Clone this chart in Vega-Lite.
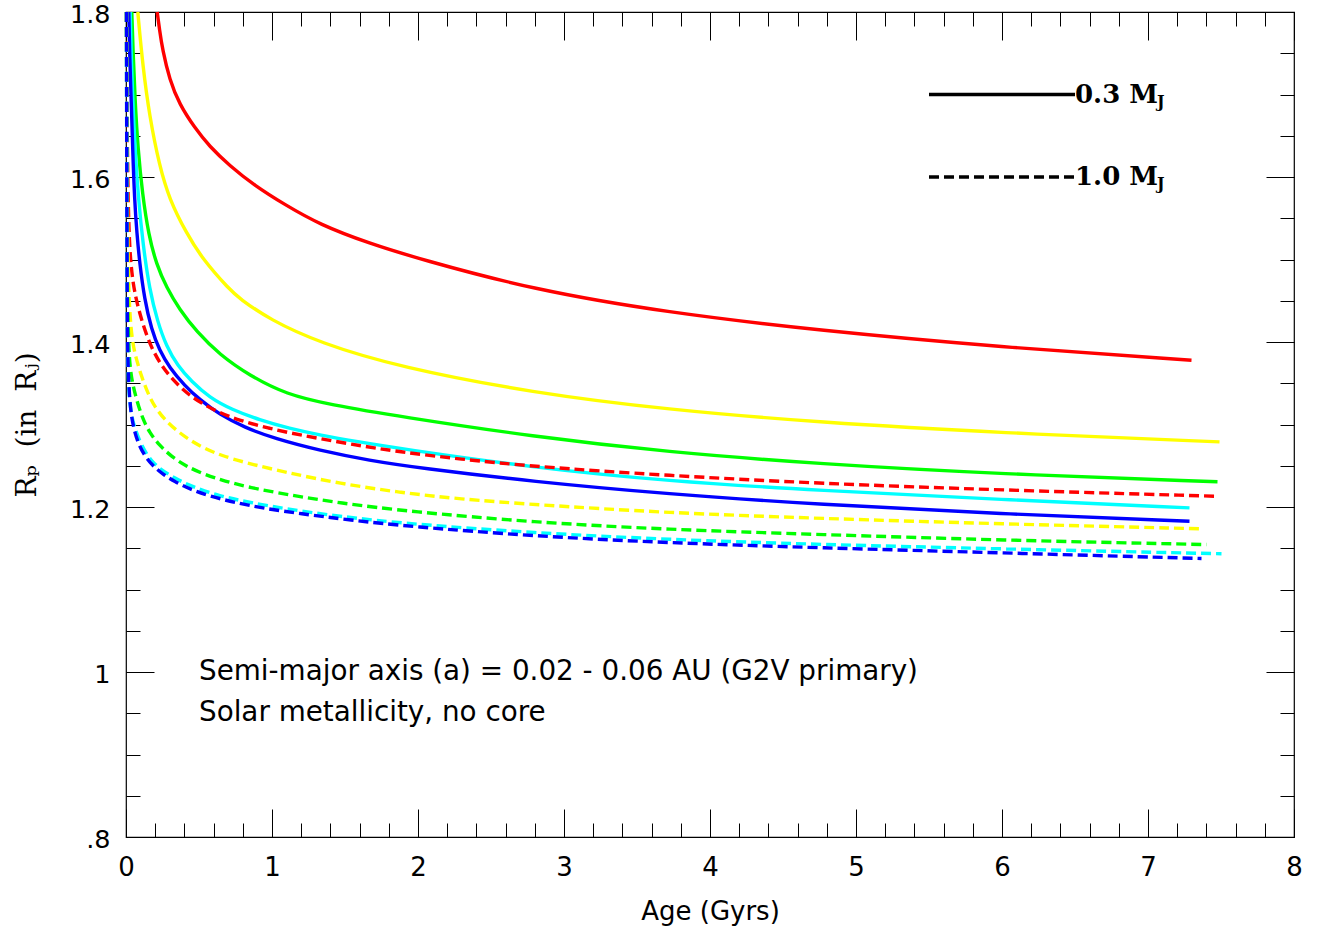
{
  "$schema": "https://vega.github.io/schema/vega-lite/v6.json",
  "width": 1168,
  "height": 825,
  "autosize": {"type": "none"},
  "padding": {"left": 126, "top": 12, "right": 28, "bottom": 95},
  "background": "white",
  "config": {
    "view": {"stroke": "#000000", "strokeWidth": 1.2},
    "axis": {"domain": false, "grid": false, "tickColor": "#000000", "tickWidth": 1, "labelColor": "#000000", "titleColor": "#000000"}
  },
  "datasets": {
    "solid": [
      {"s":"a02","age":0.2137,"r":1.8},{"s":"a02","age":0.2295,"r":1.7788},{"s":"a02","age":0.25,"r":1.7545},{"s":"a02","age":0.2979,"r":1.7182},{"s":"a02","age":0.3664,"r":1.6879},{"s":"a02","age":0.4692,"r":1.66},{"s":"a02","age":0.5719,"r":1.637},{"s":"a02","age":0.7089,"r":1.6139},{"s":"a02","age":0.8801,"r":1.5897},{"s":"a02","age":1.0856,"r":1.5667},{"s":"a02","age":1.3253,"r":1.5424},{"s":"a02","age":1.6678,"r":1.5194},{"s":"a02","age":2.0103,"r":1.5006},{"s":"a02","age":2.7842,"r":1.4636},{"s":"a02","age":3.7021,"r":1.4358},{"s":"a02","age":4.75,"r":1.4139},{"s":"a02","age":5.9829,"r":1.3939},{"s":"a02","age":7.2979,"r":1.3779},
      {"s":"a03","age":0.0808,"r":1.8},{"s":"a03","age":0.1151,"r":1.7343},{"s":"a03","age":0.161,"r":1.6737},{"s":"a03","age":0.2295,"r":1.6131},{"s":"a03","age":0.2979,"r":1.5727},{"s":"a03","age":0.4123,"r":1.5324},{"s":"a03","age":0.526,"r":1.5},{"s":"a03","age":0.7089,"r":1.4636},{"s":"a03","age":0.7774,"r":1.4527},{"s":"a03","age":0.9829,"r":1.4273},{"s":"a03","age":1.3253,"r":1.399},{"s":"a03","age":1.8733,"r":1.3695},{"s":"a03","age":2.7863,"r":1.3384},{"s":"a03","age":3.7,"r":1.3182},{"s":"a03","age":4.75,"r":1.3024},{"s":"a03","age":5.9829,"r":1.2899},{"s":"a03","age":7.4897,"r":1.279},
      {"s":"a04","age":0.0397,"r":1.8},{"s":"a04","age":0.0479,"r":1.7545},{"s":"a04","age":0.0616,"r":1.6939},{"s":"a04","age":0.0822,"r":1.6333},{"s":"a04","age":0.113,"r":1.5788},{"s":"a04","age":0.1541,"r":1.5303},{"s":"a04","age":0.2089,"r":1.4939},{"s":"a04","age":0.2774,"r":1.4661},{"s":"a04","age":0.3664,"r":1.4394},{"s":"a04","age":0.4829,"r":1.4127},{"s":"a04","age":0.6404,"r":1.3848},{"s":"a04","age":0.8459,"r":1.3594},{"s":"a04","age":1.0993,"r":1.3364},{"s":"a04","age":1.3938,"r":1.3242},{"s":"a04","age":1.8733,"r":1.3097},{"s":"a04","age":2.7842,"r":1.2855},{"s":"a04","age":3.7021,"r":1.2667},{"s":"a04","age":4.75,"r":1.2521},{"s":"a04","age":5.9829,"r":1.24},{"s":"a04","age":7.476,"r":1.2306},
      {"s":"a05","age":0.0288,"r":1.8},{"s":"a05","age":0.0363,"r":1.7424},{"s":"a05","age":0.0466,"r":1.6939},{"s":"a05","age":0.0616,"r":1.6333},{"s":"a05","age":0.0856,"r":1.5727},{"s":"a05","age":0.1164,"r":1.5182},{"s":"a05","age":0.161,"r":1.4636},{"s":"a05","age":0.2158,"r":1.4248},{"s":"a05","age":0.2774,"r":1.3945},{"s":"a05","age":0.3527,"r":1.3715},{"s":"a05","age":0.4486,"r":1.3521},{"s":"a05","age":0.5719,"r":1.3327},{"s":"a05","age":0.7226,"r":1.3182},{"s":"a05","age":0.9144,"r":1.3055},{"s":"a05","age":1.1199,"r":1.2952},{"s":"a05","age":1.3253,"r":1.2873},{"s":"a05","age":1.5993,"r":1.2788},{"s":"a05","age":1.8733,"r":1.2709},{"s":"a05","age":2.7842,"r":1.2479},{"s":"a05","age":3.7021,"r":1.2315},{"s":"a05","age":4.75,"r":1.22},{"s":"a05","age":5.9829,"r":1.2091},{"s":"a05","age":7.2842,"r":1.199},
      {"s":"a06","age":0.0192,"r":1.8},{"s":"a06","age":0.026,"r":1.7424},{"s":"a06","age":0.0356,"r":1.6939},{"s":"a06","age":0.0459,"r":1.6333},{"s":"a06","age":0.0582,"r":1.5727},{"s":"a06","age":0.0753,"r":1.5303},{"s":"a06","age":0.0925,"r":1.4976},{"s":"a06","age":0.1267,"r":1.4515},{"s":"a06","age":0.1747,"r":1.4152},{"s":"a06","age":0.2295,"r":1.3897},{"s":"a06","age":0.2979,"r":1.3691},{"s":"a06","age":0.4007,"r":1.3473},{"s":"a06","age":0.5034,"r":1.3303},{"s":"a06","age":0.6404,"r":1.3121},{"s":"a06","age":0.8116,"r":1.2964},{"s":"a06","age":1.0171,"r":1.283},{"s":"a06","age":1.3253,"r":1.2685},{"s":"a06","age":1.6678,"r":1.2564},{"s":"a06","age":2.0103,"r":1.2473},{"s":"a06","age":2.7842,"r":1.2309},{"s":"a06","age":3.7021,"r":1.2158},{"s":"a06","age":4.75,"r":1.203},{"s":"a06","age":5.9829,"r":1.1918},{"s":"a06","age":7.2842,"r":1.1828},
      {"s":"key","age":5.5,"r":1.7},{"s":"key","age":6.5,"r":1.7}
    ],
    "dashed": [
      {"s":"a02","age":0.0034,"r":1.8},{"s":"a02","age":0.0075,"r":1.6697},{"s":"a02","age":0.0137,"r":1.5727},{"s":"a02","age":0.024,"r":1.5182},{"s":"a02","age":0.0342,"r":1.4939},{"s":"a02","age":0.0479,"r":1.4721},{"s":"a02","age":0.0685,"r":1.4527},{"s":"a02","age":0.0925,"r":1.4358},{"s":"a02","age":0.1336,"r":1.4115},{"s":"a02","age":0.1836,"r":1.3897},{"s":"a02","age":0.2432,"r":1.3715},{"s":"a02","age":0.3185,"r":1.3545},{"s":"a02","age":0.4144,"r":1.3382},{"s":"a02","age":0.5034,"r":1.3273},{"s":"a02","age":0.6199,"r":1.3158},{"s":"a02","age":0.7774,"r":1.3048},{"s":"a02","age":0.9829,"r":1.2952},{"s":"a02","age":1.1884,"r":1.2873},{"s":"a02","age":1.5308,"r":1.2764},{"s":"a02","age":1.8733,"r":1.2667},{"s":"a02","age":2.2842,"r":1.2582},{"s":"a02","age":2.7842,"r":1.2491},{"s":"a02","age":3.7021,"r":1.2382},{"s":"a02","age":4.75,"r":1.2285},{"s":"a02","age":5.9829,"r":1.2206},{"s":"a02","age":7.4555,"r":1.2131},
      {"s":"a03","age":0.0034,"r":1.8},{"s":"a03","age":0.0068,"r":1.6333},{"s":"a03","age":0.0123,"r":1.5121},{"s":"a03","age":0.0205,"r":1.4515},{"s":"a03","age":0.0342,"r":1.4152},{"s":"a03","age":0.0514,"r":1.3933},{"s":"a03","age":0.0719,"r":1.3788},{"s":"a03","age":0.1062,"r":1.3582},{"s":"a03","age":0.1473,"r":1.3388},{"s":"a03","age":0.1952,"r":1.3218},{"s":"a03","age":0.2637,"r":1.3061},{"s":"a03","age":0.3459,"r":1.2927},{"s":"a03","age":0.4349,"r":1.2812},{"s":"a03","age":0.5377,"r":1.2709},{"s":"a03","age":0.6541,"r":1.2624},{"s":"a03","age":0.8116,"r":1.2539},{"s":"a03","age":1.0993,"r":1.2418},{"s":"a03","age":1.4623,"r":1.2285},{"s":"a03","age":1.8733,"r":1.2176},{"s":"a03","age":2.2842,"r":1.2097},{"s":"a03","age":2.7842,"r":1.203},{"s":"a03","age":3.7021,"r":1.193},{"s":"a03","age":4.75,"r":1.1861},{"s":"a03","age":5.9829,"r":1.1796},{"s":"a03","age":7.3527,"r":1.1736},
      {"s":"a04","age":0.0034,"r":1.8},{"s":"a04","age":0.0062,"r":1.5727},{"s":"a04","age":0.0103,"r":1.4515},{"s":"a04","age":0.0185,"r":1.3909},{"s":"a04","age":0.0308,"r":1.3642},{"s":"a04","age":0.0466,"r":1.3485},{"s":"a04","age":0.0719,"r":1.3303},{"s":"a04","age":0.113,"r":1.3073},{"s":"a04","age":0.161,"r":1.2903},{"s":"a04","age":0.2295,"r":1.2745},{"s":"a04","age":0.3116,"r":1.2612},{"s":"a04","age":0.4144,"r":1.2491},{"s":"a04","age":0.5377,"r":1.2394},{"s":"a04","age":0.6747,"r":1.2315},{"s":"a04","age":0.8459,"r":1.2236},{"s":"a04","age":1.0993,"r":1.2152},{"s":"a04","age":1.4623,"r":1.2048},{"s":"a04","age":1.9418,"r":1.1945},{"s":"a04","age":2.7842,"r":1.1816},{"s":"a04","age":3.7021,"r":1.1727},{"s":"a04","age":4.75,"r":1.1667},{"s":"a04","age":5.9829,"r":1.1598},{"s":"a04","age":7.4007,"r":1.1545},
      {"s":"a05","age":0.0034,"r":1.8},{"s":"a05","age":0.0055,"r":1.5121},{"s":"a05","age":0.0089,"r":1.403},{"s":"a05","age":0.0151,"r":1.3545},{"s":"a05","age":0.024,"r":1.3303},{"s":"a05","age":0.0377,"r":1.3109},{"s":"a05","age":0.0582,"r":1.2964},{"s":"a05","age":0.0925,"r":1.2806},{"s":"a05","age":0.1336,"r":1.2661},{"s":"a05","age":0.1815,"r":1.2545},{"s":"a05","age":0.2432,"r":1.2448},{"s":"a05","age":0.3322,"r":1.2352},{"s":"a05","age":0.4486,"r":1.2248},{"s":"a05","age":0.6404,"r":1.2133},{"s":"a05","age":0.8459,"r":1.2055},{"s":"a05","age":1.0993,"r":1.1976},{"s":"a05","age":1.4623,"r":1.1885},{"s":"a05","age":1.9418,"r":1.1794},{"s":"a05","age":2.7842,"r":1.1687},{"s":"a05","age":3.7021,"r":1.1606},{"s":"a05","age":4.75,"r":1.1545},{"s":"a05","age":5.9829,"r":1.1493},{"s":"a05","age":7.5034,"r":1.1433},
      {"s":"a06","age":0.0034,"r":1.8},{"s":"a06","age":0.0055,"r":1.5727},{"s":"a06","age":0.0089,"r":1.4152},{"s":"a06","age":0.0144,"r":1.3667},{"s":"a06","age":0.024,"r":1.3327},{"s":"a06","age":0.0377,"r":1.3085},{"s":"a06","age":0.0582,"r":1.2915},{"s":"a06","age":0.0856,"r":1.2764},{"s":"a06","age":0.1267,"r":1.2624},{"s":"a06","age":0.1815,"r":1.2503},{"s":"a06","age":0.25,"r":1.24},{"s":"a06","age":0.3322,"r":1.2309},{"s":"a06","age":0.4349,"r":1.2218},{"s":"a06","age":0.5719,"r":1.2133},{"s":"a06","age":0.7432,"r":1.2055},{"s":"a06","age":0.9486,"r":1.1982},{"s":"a06","age":1.1884,"r":1.1921},{"s":"a06","age":1.5308,"r":1.1842},{"s":"a06","age":1.9418,"r":1.1764},{"s":"a06","age":2.7842,"r":1.1648},{"s":"a06","age":3.7021,"r":1.1566},{"s":"a06","age":4.75,"r":1.1505},{"s":"a06","age":5.9829,"r":1.1445},{"s":"a06","age":7.3664,"r":1.1376},
      {"s":"key","age":5.5,"r":1.6},{"s":"key","age":6.5,"r":1.6}
    ],
    "keylabels": [
      {"age":6.5,"r":1.7,"t":"0.3 M","sub":"J"},
      {"age":6.5,"r":1.6,"t":"1.0 M","sub":"J"}
    ],
    "notes": [
      {"age":0.5,"r":1.0,"t":"Semi-major axis (a) = 0.02 - 0.06 AU (G2V primary)"},
      {"age":0.5,"r":0.95,"t":"Solar metallicity, no core"}
    ]
  },
  "resolve": {"axis": {"x": "independent", "y": "independent"}},
  "layer": [
    {
      "data": {"name": "solid"},
      "mark": {"type": "line", "strokeWidth": 3.4, "interpolate": "basis", "clip": false},
      "encoding": {
        "x": {"field": "age", "type": "quantitative",
          "scale": {"domain": [0, 8], "nice": false, "zero": false},
          "axis": {"orient": "bottom", "values": [0,1,2,3,4,5,6,7,8], "format": "d", "tickSize": -28, "labelPadding": 45, "labelFlush": false,
            "labelFont": "DejaVu Sans", "labelFontSize": 26, "title": "Age (Gyrs)", "titleFont": "DejaVu Sans", "titleFontSize": 26, "titleFontWeight": "normal", "titlePadding": 18}},
        "y": {"field": "r", "type": "quantitative",
          "scale": {"domain": [0.8, 1.8], "nice": false, "zero": false},
          "axis": {"orient": "left", "values": [0.8,1,1.2,1.4,1.6,1.8], "tickSize": -28, "labelPadding": 44, "labelOffset": 2,
            "labelExpr": "abs(datum.value-1)<0.001 ? '1' : (datum.value < 0.9 ? '.8' : format(datum.value, '.1f'))",
            "labelFont": "DejaVu Sans", "labelFontSize": 25.5, "title": "Rₚ\u00a0 (in\u00a0 Rⱼ)", "titleFont": "DejaVu Serif", "titleFontSize": 28, "titleFontWeight": "normal", "titlePadding": 28}},
        "color": {"field": "s", "type": "nominal",
          "scale": {"domain": ["a02","a03","a04","a05","a06","key"], "range": ["#ff0000","#ffff00","#00ff00","#00ffff","#0000ff","#000000"]},
          "legend": null}
      }
    },
    {
      "data": {"name": "dashed"},
      "mark": {"type": "line", "strokeWidth": 3.4, "interpolate": "basis", "strokeDash": [10, 5], "clip": false},
      "encoding": {
        "x": {"field": "age", "type": "quantitative",
          "scale": {"domain": [0, 8], "nice": false, "zero": false},
          "axis": {"orient": "bottom", "values": [0,0.2,0.4,0.6,0.8,1,1.2,1.4,1.6,1.8,2,2.2,2.4,2.6,2.8,3,3.2,3.4,3.6,3.8,4,4.2,4.4,4.6,4.8,5,5.2,5.4,5.6,5.8,6,6.2,6.4,6.6,6.8,7,7.2,7.4,7.6,7.8,8], "tickSize": -14, "labels": false, "title": null}},
        "y": {"field": "r", "type": "quantitative",
          "scale": {"domain": [0.8, 1.8], "nice": false, "zero": false},
          "axis": {"orient": "left", "values": [0.8,0.85,0.9,0.95,1,1.05,1.1,1.15,1.2,1.25,1.3,1.35,1.4,1.45,1.5,1.55,1.6,1.65,1.7,1.75,1.8], "tickSize": -14, "labels": false, "title": null}},
        "color": {"field": "s", "type": "nominal",
          "scale": {"domain": ["a02","a03","a04","a05","a06","key"], "range": ["#ff0000","#ffff00","#00ff00","#00ffff","#0000ff","#000000"]},
          "legend": null}
      }
    },
    {
      "data": {"name": "keylabels"},
      "mark": {"type": "text", "align": "left", "baseline": "middle", "font": "DejaVu Serif", "fontWeight": "bold", "fontSize": 26, "color": "#000000"},
      "encoding": {
        "x": {"field": "age", "type": "quantitative",
          "scale": {"domain": [0, 8], "nice": false, "zero": false},
          "axis": {"orient": "top", "values": [0,1,2,3,4,5,6,7,8], "tickSize": -28, "labels": false, "title": null}},
        "y": {"field": "r", "type": "quantitative",
          "scale": {"domain": [0.8, 1.8], "nice": false, "zero": false},
          "axis": {"orient": "right", "values": [0.8,1,1.2,1.4,1.6,1.8], "tickSize": -28, "labels": false, "title": null}},
        "text": {"field": "t"}
      }
    },
    {
      "data": {"name": "keylabels"},
      "mark": {"type": "text", "align": "left", "baseline": "middle", "font": "DejaVu Serif", "fontWeight": "bold", "fontSize": 16, "dx": 82, "dy": 7, "color": "#000000"},
      "encoding": {
        "x": {"field": "age", "type": "quantitative",
          "scale": {"domain": [0, 8], "nice": false, "zero": false},
          "axis": {"orient": "top", "values": [0,0.2,0.4,0.6,0.8,1,1.2,1.4,1.6,1.8,2,2.2,2.4,2.6,2.8,3,3.2,3.4,3.6,3.8,4,4.2,4.4,4.6,4.8,5,5.2,5.4,5.6,5.8,6,6.2,6.4,6.6,6.8,7,7.2,7.4,7.6,7.8,8], "tickSize": -14, "labels": false, "title": null}},
        "y": {"field": "r", "type": "quantitative",
          "scale": {"domain": [0.8, 1.8], "nice": false, "zero": false},
          "axis": {"orient": "right", "values": [0.8,0.85,0.9,0.95,1,1.05,1.1,1.15,1.2,1.25,1.3,1.35,1.4,1.45,1.5,1.55,1.6,1.65,1.7,1.75,1.8], "tickSize": -14, "labels": false, "title": null}},
        "text": {"field": "sub"}
      }
    },
    {
      "data": {"name": "notes"},
      "mark": {"type": "text", "align": "left", "baseline": "middle", "font": "DejaVu Sans", "fontSize": 27.8, "color": "#000000"},
      "encoding": {
        "x": {"field": "age", "type": "quantitative", "scale": {"domain": [0, 8], "nice": false, "zero": false}, "axis": null},
        "y": {"field": "r", "type": "quantitative", "scale": {"domain": [0.8, 1.8], "nice": false, "zero": false}, "axis": null},
        "text": {"field": "t"}
      }
    }
  ]
}
